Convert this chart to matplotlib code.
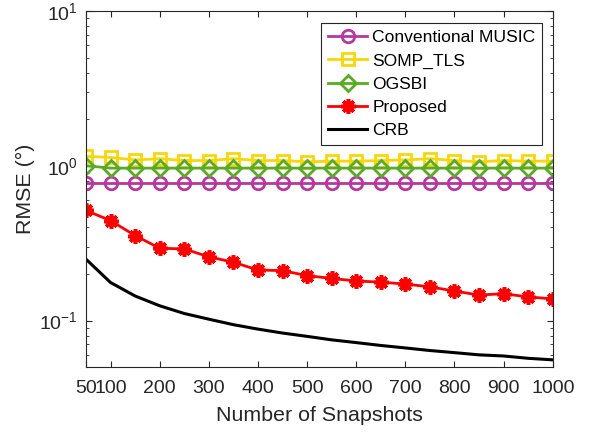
## RMSE vs number of snapshots, MATLAB-like look
import numpy as np
import matplotlib
matplotlib.use('Agg')
import matplotlib.pyplot as plt
from matplotlib.ticker import FixedLocator, LogLocator, NullFormatter

plt.rc('font', family=['Liberation Sans', 'DejaVu Sans'], size=14)
plt.rc('mathtext', fontset='custom', rm='Liberation Sans', it='Liberation Sans', default='regular')
plt.rc('axes', linewidth=0.8, edgecolor='#262626', labelcolor='#262626')
plt.rc('xtick', direction='in', top=True, color='#262626')
plt.rc('ytick', direction='in', right=True, color='#262626')

snapshots = [50, 100, 150, 200, 250, 300, 350, 400, 450, 500,
             550, 600, 650, 700, 750, 800, 850, 900, 950, 1000]
music = [0.77, 0.77, 0.77, 0.77, 0.77, 0.77, 0.77, 0.77, 0.77, 0.77,
         0.77, 0.77, 0.77, 0.77, 0.77, 0.77, 0.77, 0.77, 0.77, 0.77]
somp_tls = [1.15, 1.13, 1.09, 1.11, 1.08, 1.08, 1.11, 1.08, 1.08, 1.06,
            1.07, 1.07, 1.08, 1.09, 1.11, 1.08, 1.06, 1.08, 1.07, 1.07]
ogsbi = [1.0, 0.965, 0.965, 0.965, 0.965, 0.965, 0.965, 0.965, 0.965, 0.965,
         0.965, 0.965, 0.965, 0.965, 0.965, 0.965, 0.965, 0.965, 0.965, 0.965]
proposed = [0.514, 0.442, 0.354, 0.293, 0.290, 0.258, 0.238, 0.212, 0.210, 0.195,
            0.187, 0.180, 0.177, 0.172, 0.165, 0.155, 0.146, 0.149, 0.142, 0.138]
crb = [0.249, 0.176, 0.144, 0.1245, 0.111, 0.102, 0.094, 0.088, 0.083, 0.079,
       0.075, 0.072, 0.069, 0.0665, 0.064, 0.062, 0.060, 0.059, 0.057, 0.0557]
xtick_vals = [50, 100, 200, 300, 400, 500, 600, 700, 800, 900, 1000]

fig = plt.figure(figsize=(5.95, 4.36), dpi=100)
ax = fig.add_axes([0.1445, 0.158, 0.7845, 0.817])

lw = 2.0
ax.plot(snapshots, music, '-o', color='#B5389F', lw=lw, ms=9, mfc='none', mew=2,
        label='Conventional MUSIC')
ax.plot(snapshots, somp_tls, '-s', color='#F7D70A', lw=lw, ms=8, mfc='none', mew=2,
        label='SOMP_TLS')
ax.plot(snapshots, ogsbi, '-D', color='#5AAA23', lw=lw, ms=8, mfc='none', mew=2,
        label='OGSBI')
ax.plot(snapshots, proposed, '-', marker=(8, 2, 0), color='#FF0000', lw=lw, ms=10.5, mew=2.6,
        label='Proposed')
ax.plot(snapshots, crb, '-', color='black', lw=2.2, label='CRB')

ax.set_yscale('log')
ax.set_xlim(50, 1000)
ax.set_ylim(0.05, 10)
ax.xaxis.set_major_locator(FixedLocator(xtick_vals))
ax.set_xticklabels([str(v) for v in xtick_vals])
ax.yaxis.set_major_locator(LogLocator(base=10))
ax.yaxis.set_minor_locator(LogLocator(base=10, subs=np.arange(2, 10)))
ax.yaxis.set_minor_formatter(NullFormatter())
ax.tick_params(which='major', length=4, width=0.8, labelsize=14, labelcolor='#262626', pad=6)
ax.tick_params(axis='x', which='major', pad=9)
ax.tick_params(which='minor', length=2.5, width=0.6)

ax.set_xlabel('Number of Snapshots', fontsize=15.4, labelpad=7)
ax.set_ylabel('RMSE (°)', fontsize=15.4, labelpad=3)

leg = ax.legend(loc='upper right', fontsize=12.6, frameon=True, fancybox=False,
                edgecolor='#262626', framealpha=1, handlelength=2.2,
                labelspacing=0.45, borderpad=0.4, handletextpad=0.3,
                borderaxespad=0, bbox_to_anchor=(0.978, 0.966))
leg.get_frame().set_linewidth(0.8)

plt.savefig('out.png', dpi=100)
